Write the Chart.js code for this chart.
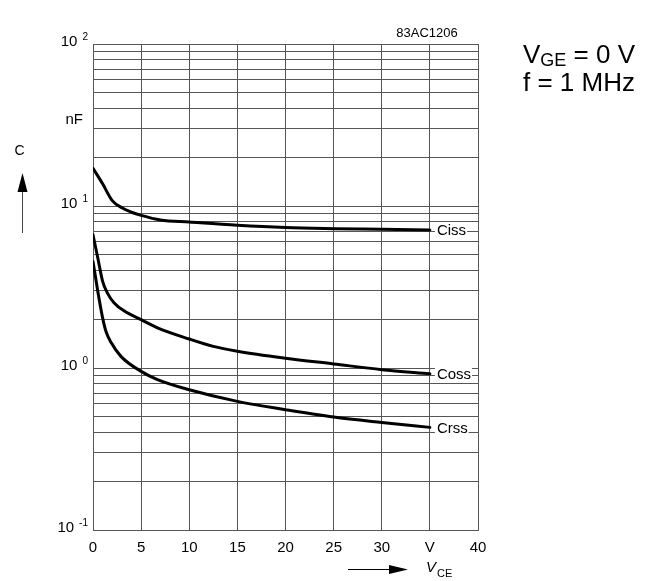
<!DOCTYPE html>
<html><head><meta charset="utf-8">
<script src="https://cdn.jsdelivr.net/npm/chart.js@4"></script>
<style>html,body{margin:0;padding:0;background:#fff}canvas{display:block}</style>
</head><body>
<canvas id="c" width="653" height="581"></canvas>
<script>
const xTicks = [0, 5, 10, 15, 20, 25, 30, 35, 40];
const xTickLabels = ['0', '5', '10', '15', '20', '25', '30', 'V', '40'];
const yTicks = [0.1,0.2,0.3,0.4,0.5,0.6,0.7,0.8,0.9,1,2,3,4,5,6,7,8,9,10,20,30,40,50,60,70,80,90,100];
const yDecades = [0.1, 1, 10, 100];
const yDecadeExp = ['-1', '0', '1', '2'];

const cissV = [0, 1, 2, 3, 4, 5, 7, 10, 15, 20, 25, 30, 35];
const cissC = [17.1, 13.7, 10.8, 9.75, 9.15, 8.75, 8.2, 7.96, 7.6, 7.36, 7.25, 7.18, 7.1];

const cossV = [0, 0.5, 1, 1.5, 2.2, 3.3, 5, 6.7, 10, 12.5, 15, 20, 25, 30, 35];
const cossC = [6.65, 4.78, 3.43, 2.9, 2.52, 2.24, 1.99, 1.77, 1.51, 1.36, 1.27, 1.15, 1.06, 0.977, 0.92];

const crssV = [0, 0.5, 1, 1.35, 1.9, 2.9, 5, 6.7, 10, 15, 20, 25, 30, 35];
const crssC = [4.55, 2.97, 2.04, 1.68, 1.43, 1.18, 0.953, 0.848, 0.734, 0.622, 0.553, 0.498, 0.461, 0.43];

const seriesNames = ['Ciss', 'Coss', 'Crss'];
const seriesV = [cissV, cossV, crssV];
const seriesC = [cissC, cossC, crssC];

const FONT = '"Liberation Sans", Arial, Helvetica, sans-serif';

const datasets = seriesNames.map((name, i) => ({
  label: name,
  data: seriesV[i].map((v, j) => ({x: v, y: seriesC[i][j]})),
  borderColor: '#000',
  borderWidth: 3,
  pointRadius: 0,
  fill: false,
  cubicInterpolationMode: 'monotone',
  borderCapStyle: 'round',
  borderJoinStyle: 'round'
}));

const decorPlugin = {
  id: 'decor',
  afterDraw(chart) {
    const ctx = chart.ctx;
    const xs = chart.scales.x, ys = chart.scales.y;
    const area = chart.chartArea;
    ctx.save();
    ctx.fillStyle = '#000';
    // x tick labels
    ctx.font = '15px ' + FONT;
    ctx.textAlign = 'center';
    ctx.textBaseline = 'alphabetic';
    xTicks.forEach((v, i) => {
      ctx.fillText(xTickLabels[i], xs.getPixelForValue(v), area.bottom + 22);
    });
    // y decade labels
    yDecades.forEach((v, i) => {
      const y = ys.getPixelForValue(v);
      const rx = area.left - 5;
      ctx.textAlign = 'right';
      ctx.font = '10px ' + FONT;
      const sw = ctx.measureText(yDecadeExp[i]).width;
      ctx.fillText(yDecadeExp[i], rx, y - 4);
      ctx.font = '15px ' + FONT;
      ctx.fillText('10', rx - sw - 5, y + 2);
    });
    // unit
    ctx.font = '15px ' + FONT;
    ctx.textAlign = 'right';
    ctx.fillText('nF', area.left - 10, 124);
    // C axis title + arrow
    ctx.textAlign = 'center';
    ctx.font = '14px ' + FONT;
    ctx.textBaseline = 'middle';
    ctx.fillText('C', 19.5, 151);
    ctx.strokeStyle = '#444';
    ctx.lineWidth = 1;
    ctx.beginPath(); ctx.moveTo(22.5, 233); ctx.lineTo(22.5, 190); ctx.stroke();
    ctx.beginPath(); ctx.moveTo(22.5, 173); ctx.lineTo(27.5, 192); ctx.lineTo(17.5, 192); ctx.closePath(); ctx.fill();
    // code
    ctx.font = '13px ' + FONT;
    ctx.fillText('83AC1206', 427, 33);
    // conditions
    ctx.textBaseline = 'alphabetic';
    ctx.textAlign = 'left';
    let x0 = 523;
    ctx.font = '26px ' + FONT;
    ctx.fillText('V', x0, 63);
    x0 += ctx.measureText('V').width;
    ctx.font = '18px ' + FONT;
    ctx.fillText('GE', x0, 66);
    x0 += ctx.measureText('GE').width;
    ctx.font = '26px ' + FONT;
    ctx.fillText(' = 0 V', x0, 63);
    ctx.fillText('f = 1 MHz', 523, 91);
    // V_CE title + arrow
    ctx.strokeStyle = '#000';
    ctx.beginPath(); ctx.moveTo(348, 569.5); ctx.lineTo(392, 569.5); ctx.stroke();
    ctx.beginPath(); ctx.moveTo(408, 569.5); ctx.lineTo(389, 565); ctx.lineTo(389, 574); ctx.closePath(); ctx.fill();
    ctx.font = 'italic 15px ' + FONT;
    ctx.fillText('V', 426, 572);
    ctx.font = '11px ' + FONT;
    ctx.fillText('CE', 437, 577);
    // curve labels
    ctx.font = '15px ' + FONT;
    ctx.textBaseline = 'middle';
    seriesNames.forEach((name, i) => {
      const v = seriesV[i], c = seriesC[i];
      const px = xs.getPixelForValue(v[v.length - 1]) + 7;
      const py = ys.getPixelForValue(c[c.length - 1]) + 1;
      const w = ctx.measureText(name).width;
      ctx.fillStyle = '#fff';
      ctx.fillRect(px - 2, py - 7, w + 3, 14);
      ctx.fillStyle = '#000';
      ctx.fillText(name, px, py);
    });
    ctx.restore();
  }
};

new Chart(document.getElementById('c'), {
  type: 'line',
  data: { datasets },
  options: {
    responsive: false,
    animation: false,
    devicePixelRatio: 1,
    layout: { padding: { left: 93, right: 175, top: 44, bottom: 51 } },
    plugins: { legend: { display: false }, tooltip: { enabled: false }, title: { display: false } },
    scales: {
      x: {
        type: 'linear', min: 0, max: 40,
        ticks: { display: false, stepSize: 5 },
        afterBuildTicks: (s) => { s.ticks = xTicks.map(v => ({value: v})); },
        grid: { color: '#555', lineWidth: 1, drawTicks: false },
        border: { display: true, color: '#555', width: 1 }
      },
      y: {
        type: 'logarithmic', min: 0.1, max: 100,
        ticks: { display: false },
        afterBuildTicks: (s) => { s.ticks = yTicks.map(v => ({value: v})); },
        grid: { color: '#555', lineWidth: 1, drawTicks: false },
        border: { display: true, color: '#555', width: 1 }
      }
    }
  },
  plugins: [decorPlugin]
});
</script>
</body></html>
